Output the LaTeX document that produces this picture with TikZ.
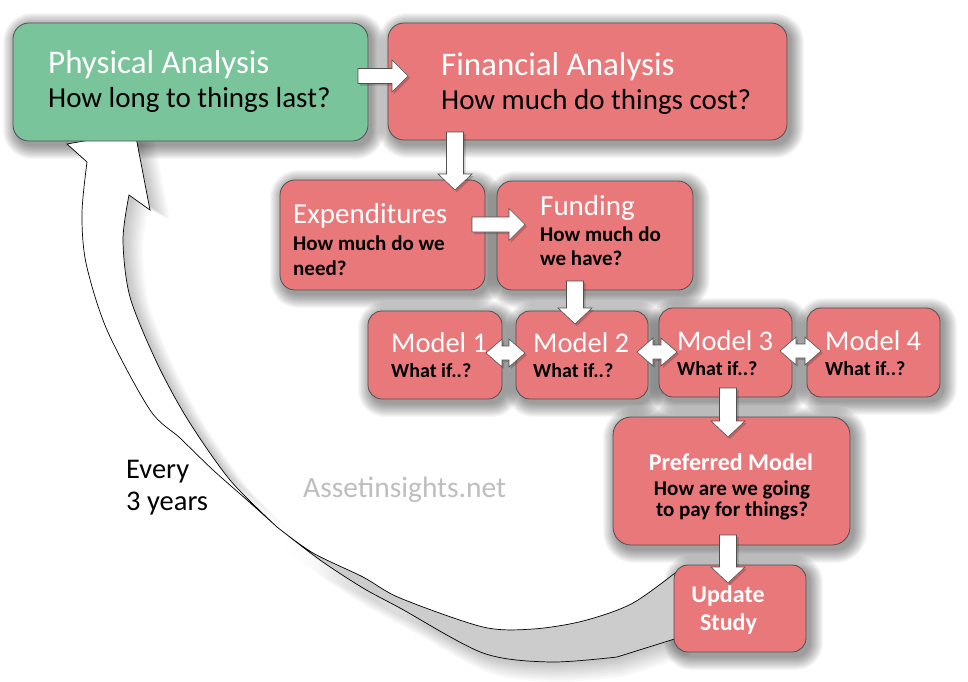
\documentclass[tikz,border=0pt]{standalone}
\usepackage{fontspec}
\setmainfont{Carlito}
\definecolor{boxgreen}{RGB}{121,196,155}
\definecolor{boxred}{RGB}{233,120,122}
\definecolor{edgegray}{RGB}{80,80,80}
\definecolor{wmgray}{RGB}{190,190,190}
% soft shadow behind a rounded box: x1, y1, x2, y2, corner radius
\newcommand\softshadow[5]{%
  \foreach \k in {0,1,...,13}{%
    \fill[black, opacity=0.03, rounded corners={(#5+\k)*1pt}]
      (#1+3-\k,#2+3-\k) rectangle (#3+4+\k,#4+5+\k);}}
\newcommand\blkRpath[3]{(#1,#3-7.5) -- (#2-16,#3-7.5) -- (#2-16,#3-16) -- (#2,#3)
    -- (#2-16,#3+16) -- (#2-16,#3+7.5) -- (#1,#3+7.5) -- cycle}
\newcommand\blkDpath[3]{(#1-8.5,#2) -- (#1+8.5,#2) -- (#1+8.5,#3-16) -- (#1+17,#3-16)
    -- (#1,#3) -- (#1-17,#3-16) -- (#1-8.5,#3-16) -- cycle}
\newcommand\blkLRpath[3]{(#1,#3) -- (#1+16,#3-14) -- (#1+16,#3-7) -- (#2-16,#3-7)
    -- (#2-16,#3-14) -- (#2,#3) -- (#2-16,#3+14) -- (#2-16,#3+7)
    -- (#1+16,#3+7) -- (#1+16,#3+14) -- cycle}
\newcommand\blkR[3]{\fill[blkshadow] \blkRpath{#1}{#2}{#3}; \draw[blk] \blkRpath{#1}{#2}{#3};}
\newcommand\blkD[3]{\fill[blkshadow] \blkDpath{#1}{#2}{#3}; \draw[blk] \blkDpath{#1}{#2}{#3};}
\newcommand\blkLR[3]{\fill[blkshadow] \blkLRpath{#1}{#2}{#3}; \draw[blk] \blkLRpath{#1}{#2}{#3};}
\newcommand\graypart{plot[smooth] coordinates {(277,527) (313,553) (363,577) (400,598)
    (483,627) (533,629) (583,621) (633,603) (684,566)}
  -- (684,636)
  -- plot[smooth] coordinates {(617,657) (550,662) (483,653) (400,608) (363,588)
    (320,560) (277,527)} -- cycle}
\newcommand\whitepart{plot[smooth] coordinates {(277,527) (247,500) (213,470) (180,438)
    (150,410) (107,330) (86,263) (82,213) (87,162)}
  -- (67,144) -- (135,132) -- (150,210)
  -- plot[smooth] coordinates {(129,195) (123,240) (130,297) (157,363) (188,420)
    (230,480) (277,527)} -- cycle}
\begin{document}
\begin{tikzpicture}[x=1pt,y=-1pt,
  box/.style={draw=edgegray, line width=0.8pt, rounded corners=16pt, inner sep=0pt},
  gbox/.style={box, fill=boxgreen},
  rbox/.style={box, fill=boxred},
  blk/.style={fill=white, draw=edgegray, line width=0.6pt, line join=miter},
  blkshadow/.style={black, opacity=0.18, shift={(2,2)}},
  big/.style={text=white, inner sep=0pt, font=\fontsize{33}{33}\selectfont},
  bigsub/.style={text=black, inner sep=0pt, font=\fontsize{29}{29}\selectfont},
  mid/.style={text=white, inner sep=0pt, font=\fontsize{29}{29}\selectfont},
  midsub/.style={text=black, inner sep=0pt, font=\bfseries\fontsize{21}{21}\selectfont},
  mdl/.style={text=white, inner sep=0pt, font=\fontsize{28.5}{28.5}\selectfont},
  mdlsub/.style={text=black, inner sep=0pt, font=\bfseries\fontsize{20}{20}\selectfont},
  prf/.style={text=white, inner sep=0pt, font=\bfseries\fontsize{24}{24}\selectfont},
  prfsub/.style={text=black, inner sep=0pt, font=\bfseries\fontsize{21}{21}\selectfont},
  note/.style={text=black, inner sep=0pt, font=\fontsize{28.5}{28.5}\selectfont},
  wm/.style={text=wmgray, inner sep=0pt, font=\fontsize{29.5}{29.5}\selectfont},
  curvewhite/.style={fill=white, draw=black, line width=0.7pt},
  curvegray/.style={fill=black!20, draw=black, line width=0.7pt}
]
\useasboundingbox (0,0) rectangle (968,681);
\fill[white] (0,0) rectangle (968,681);

% soft shadows
\foreach \s in {2,4,...,20}{%
  \fill[black, opacity=0.022, shift={(\s,0.5*\s)}] \whitepart;
  \fill[black, opacity=0.022, shift={(0.3*\s,\s)}] \graypart;}
\softshadow{13}{23}{368}{141}{16}
\softshadow{388}{23}{787}{140}{16}
\softshadow{280}{180}{485}{290}{15}
\softshadow{497}{181}{693}{290}{15}
\softshadow{368}{311}{502}{399}{14}
\softshadow{516}{311}{648}{399}{14}
\softshadow{659}{308}{792}{397}{14}
\softshadow{807}{308}{940}{397}{14}
\softshadow{613}{417}{850}{545}{18}
\softshadow{674}{565}{806}{652}{14}

% curved return arrow (under the boxes)
\path[curvegray] \graypart;
\path[curvewhite] \whitepart;

% boxes
\node[gbox, minimum width=355pt, minimum height=118pt] (phys) at (190.5,82) {};
\node[rbox, minimum width=399pt, minimum height=117pt] (fin) at (587.5,81.5) {};
\node[rbox, rounded corners=15pt, minimum width=205pt, minimum height=110pt] (exp) at (382.5,235) {};
\node[rbox, rounded corners=15pt, minimum width=196pt, minimum height=109pt] (fund) at (595,235.5) {};
\node[rbox, rounded corners=14pt, minimum width=134pt, minimum height=88pt] (m1) at (435,355) {};
\node[rbox, rounded corners=14pt, minimum width=132pt, minimum height=88pt] (m2) at (582,355) {};
\node[rbox, rounded corners=14pt, minimum width=133pt, minimum height=89pt] (m3) at (725.5,352.5) {};
\node[rbox, rounded corners=14pt, minimum width=133pt, minimum height=89pt] (m4) at (873.5,352.5) {};
\node[rbox, rounded corners=18pt, minimum width=237pt, minimum height=128pt] (pref) at (731.5,481) {};
\node[rbox, rounded corners=14pt, minimum width=132pt, minimum height=87pt] (upd) at (740,608.5) {};

% texts
\node[big, anchor=base west] (physT) at (48,73) {Physical Analysis};
\node[bigsub, anchor=base west] (physS) at (48,107) {How long to things last?};
\node[big, anchor=base west] (finT) at (441,75) {Financial Analysis};
\node[bigsub, anchor=base west] (finS) at (441,109) {How much do things cost?};
\node[mid, anchor=base west] (expT) at (293,223) {Expenditures};
\node[midsub, anchor=base west] (expS1) at (293,250) {How much do we};
\node[midsub, anchor=base west] (expS2) at (293,275) {need?};
\node[mid, anchor=base west] (fundT) at (540,215) {Funding};
\node[midsub, anchor=base west] (fundS1) at (540,241) {How much do};
\node[midsub, anchor=base west] (fundS2) at (540,265) {we have?};
\node[mdl, anchor=base west] (m1T) at (391,352) {Model 1};
\node[mdlsub, anchor=base west] (m1S) at (391,377) {What if..?};
\node[mdl, anchor=base west] (m2T) at (533,352) {Model 2};
\node[mdlsub, anchor=base west] (m2S) at (533,377) {What if..?};
\node[mdl, anchor=base west] (m3T) at (677,350) {Model 3};
\node[mdlsub, anchor=base west] (m3S) at (677,375) {What if..?};
\node[mdl, anchor=base west] (m4T) at (825,350) {Model 4};
\node[mdlsub, anchor=base west] (m4S) at (825,375) {What if..?};
\node[prf, anchor=base] (prefT) at (731,470) {Preferred Model};
\node[prfsub, anchor=base] (prefS1) at (732,495) {How are we going};
\node[prfsub, anchor=base] (prefS2) at (732,516) {to pay for things?};
\node[prf, anchor=base] (updT1) at (728,602) {Update};
\node[prf, anchor=base] (updT2) at (728.5,630) {Study};
\node[note, anchor=base west] (every1) at (126,478) {Every};
\node[note, anchor=base west] (every2) at (126,510) {3 years};
\node[wm, anchor=base west] (wmark) at (303,497) {Assetinsights.net};

% block arrows between the boxes
\blkR{358}{408}{76}
\blkD{455}{132}{190}
\blkR{472}{525}{224.5}
\blkD{575}{281}{324}
\blkLR{486}{525}{353}
\blkLR{637}{677}{352}
\blkLR{780}{821}{351}
\blkD{728}{388}{437}
\blkD{728}{535}{583}
\end{tikzpicture}
\end{document}
